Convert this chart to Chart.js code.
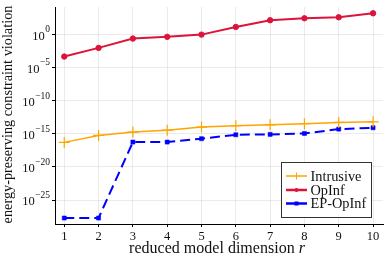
<!DOCTYPE html>
<html><head><meta charset="utf-8">
<script src="https://cdn.jsdelivr.net/npm/chart.js@4"></script>
<style>html,body{margin:0;padding:0;background:#fff}canvas{display:block}</style>
</head><body>
<canvas id="c" width="390" height="260"></canvas>
<script>
const dims = [1,2,3,4,5,6,7,8,9,10];
const intrusive = [5e-17, 5.6e-16, 1.8e-15, 3.5e-15, 1e-14, 1.6e-14, 2.2e-14, 3.2e-14, 5e-14, 6.3e-14];
const opinf = [4.3e-4, 8.7e-3, 0.22, 0.4, 0.87, 12.6, 126, 251, 355, 1413];
const epopinf = [2e-28, 2e-28, 5.6e-17, 5.6e-17, 1.8e-16, 7e-16, 8e-16, 1.1e-15, 5e-15, 8e-15];
const yTickExps = [-25, -20, -15, -10, -5, 0];
const seriesNames = ['Intrusive', 'OpInf', 'EP-OpInf'];
const xTitle = 'reduced model dimension ';
const xTitleVar = 'r';
const yTitle = 'energy-preserving constraint violation';

const FAM = "'Liberation Serif', 'Times New Roman', serif";
const pts = arr => dims.map((d, i) => ({x: d, y: arr[i]}));

function fit(ctx, text, style, target) {
  ctx.font = style + ' 100px ' + FAM;
  return 100 * target / ctx.measureText(text).width;
}

const textPlugin = {
  id: 'textPlugin',
  afterDraw(chart) {
    const ctx = chart.ctx, xs = chart.scales.x, ys = chart.scales.y, ca = chart.chartArea;
    ctx.save();
    ctx.fillStyle = '#111';
    // y tick labels
    ys.ticks.forEach(t => {
      const py = ys.getPixelForValue(t.value);
      const e = Math.round(Math.log10(t.value));
      const es = (e < 0 ? '\u2212' : '') + Math.abs(e);
      ctx.textAlign = 'right'; ctx.textBaseline = 'alphabetic';
      ctx.font = '9.5px ' + FAM;
      const ew = ctx.measureText(es).width;
      ctx.fillText(es, ca.left - 5, py - 2);
      ctx.font = '12.5px ' + FAM;
      ctx.fillText('10', ca.left - 5 - ew - 0.5, py + 5.3);
    });
    // x tick labels
    ctx.font = '12.5px ' + FAM;
    ctx.textAlign = 'center'; ctx.textBaseline = 'alphabetic';
    xs.ticks.forEach(t => {
      ctx.fillText(String(t.value), xs.getPixelForValue(t.value), ca.bottom + 16);
    });
    // x title
    ctx.font = '100px ' + FAM;
    const w1 = ctx.measureText(xTitle).width;
    ctx.font = 'italic 100px ' + FAM;
    const w2 = ctx.measureText(xTitleVar).width;
    const xs_ = 100 * 176 / (w1 + w2);
    ctx.font = xs_ + 'px ' + FAM;
    const a = ctx.measureText(xTitle).width;
    ctx.font = 'italic ' + xs_ + 'px ' + FAM;
    const b = ctx.measureText(xTitleVar).width;
    const cx = 217, start = cx - (a + b) / 2;
    ctx.textAlign = 'left';
    ctx.font = xs_ + 'px ' + FAM;
    ctx.fillText(xTitle, start, 253);
    ctx.font = 'italic ' + xs_ + 'px ' + FAM;
    ctx.fillText(xTitleVar, start + a, 253);
    // y title
    const ysz = fit(ctx, yTitle, '', 218);
    ctx.save();
    ctx.translate(12, (ca.top + ca.bottom) / 2 - 1);
    ctx.rotate(-Math.PI / 2);
    ctx.font = ysz + 'px ' + FAM;
    ctx.textAlign = 'center'; ctx.textBaseline = 'alphabetic';
    ctx.fillText(yTitle, 0, 0);
    ctx.restore();
    // legend
    ctx.fillStyle = '#fff';
    ctx.fillRect(281.5, 162.5, 90, 55);
    ctx.strokeStyle = '#333'; ctx.lineWidth = 1;
    ctx.strokeRect(281.5, 162.5, 90, 55);
    const lsz = fit(ctx, 'Intrusive', '', 51);
    const rows = [176, 190, 203.5];
    chart.data.datasets.forEach((ds, i) => {
      const ry = rows[i];
      ctx.strokeStyle = ds.borderColor; ctx.fillStyle = ds.borderColor;
      ctx.lineWidth = i === 0 ? 1.5 : 2.5;
      ctx.setLineDash([]);
      ctx.beginPath(); ctx.moveTo(286, ry); ctx.lineTo(307, ry); ctx.stroke();
      const mx = 296.5;
      if (i === 0) {
        ctx.lineWidth = 1;
        ctx.beginPath(); ctx.moveTo(mx, ry - 3.5); ctx.lineTo(mx, ry + 3.5); ctx.stroke();
      } else if (i === 1) {
        ctx.beginPath(); ctx.arc(mx, ry, 2, 0, Math.PI * 2); ctx.fill();
      } else {
        ctx.fillRect(mx - 2, ry - 2, 4, 4);
      }
      ctx.fillStyle = '#111';
      ctx.font = lsz + 'px ' + FAM;
      ctx.textAlign = 'left'; ctx.textBaseline = 'alphabetic';
      ctx.fillText(seriesNames[i], 310.5, ry + 4.5);
    });
    ctx.restore();
  }
};

new Chart(document.getElementById('c'), {
  type: 'line',
  data: {
    datasets: [
      {label: seriesNames[0], data: pts(intrusive), borderColor: '#FFA500', backgroundColor: '#FFA500',
       borderWidth: 1.5, pointStyle: 'cross', pointRadius: 5.5, pointBorderWidth: 1.2, tension: 0},
      {label: seriesNames[1], data: pts(opinf), borderColor: '#DC143C', backgroundColor: '#DC143C',
       borderWidth: 2, pointStyle: 'circle', pointRadius: 2.7, pointBorderWidth: 1, tension: 0},
      {label: seriesNames[2], data: pts(epopinf), borderColor: '#0000FF', backgroundColor: '#0000FF',
       borderWidth: 2, borderDash: [10, 5], pointStyle: 'rect', pointRadius: 2.9, pointBorderWidth: 0.5, tension: 0}
    ]
  },
  options: {
    responsive: false, animation: false, devicePixelRatio: 1,
    layout: {padding: {top: 7, right: 7, left: 0, bottom: 0}},
    plugins: {legend: {display: false}, tooltip: {enabled: false}},
    scales: {
      x: {
        type: 'linear', min: 0.73, max: 10.29,
        afterBuildTicks: s => { s.ticks = dims.map(v => ({value: v})); },
        ticks: {display: false},
        grid: {color: 'rgba(0,0,0,0.08)', tickColor: '#000', tickLength: 3, drawTicks: true},
        border: {color: '#000', width: 1},
        afterFit: s => { s.height = 36; }
      },
      y: {
        type: 'logarithmic', min: Math.pow(10, -28.6), max: Math.pow(10, 4.1),
        afterBuildTicks: s => { s.ticks = yTickExps.map(e => ({value: Math.pow(10, e)})); },
        ticks: {display: false},
        grid: {color: 'rgba(0,0,0,0.08)', tickColor: '#000', tickLength: 3, drawTicks: true},
        border: {color: '#000', width: 1},
        afterFit: s => { s.width = 55; }
      }
    }
  },
  plugins: [textPlugin]
});
</script>
</body></html>
